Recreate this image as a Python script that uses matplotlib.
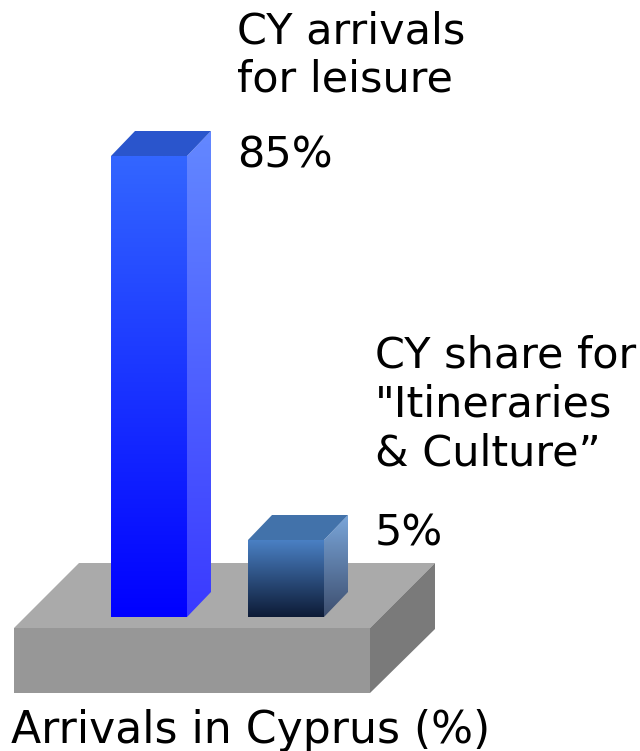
import numpy as np
import matplotlib
matplotlib.use("Agg")
import matplotlib.pyplot as plt
from matplotlib.patches import Polygon
from matplotlib.colors import LinearSegmentedColormap

# data
categories = ["CY arrivals\nfor leisure", "CY share for\n\"Itineraries\n& Culture\u201d"]
values = [85, 5]
value_labels = ["85%", "5%"]
xlabel = "Arrivals in Cyprus (%)"

# bar styles: front top/bottom, side top/bottom, top face
front_cols = [("#3366ff", "#0000ff"), ("#4a80c4", "#0d1b36")]
side_cols = [("#6388ff", "#3a3aff"), ("#7aa6da", "#3d4e6e")]
top_cols = ["#2a55cc", "#4272aa"]

W, H = 640, 751
PX = 4.8            # pixels per percent unit
BASE = 564          # pixel row of value 0


def py(p):
    return (BASE - p) / PX


fig = plt.figure(figsize=(W / 100, H / 100), dpi=100)
ax = fig.add_axes([0, 0, 1, 1])
ax.set_xlim(0, W)
ax.set_ylim(py(H), py(0))
ax.axis("off")

# platform
dx, dy = 24, 25 / PX
pf_l, pf_r = 14, 370
pf_top, pf_bot = py(628), py(693)
pf_back = py(563)
pdx = 65
ax.add_patch(Polygon([(pf_l, pf_top), (pf_l + pdx, pf_back), (pf_r + pdx, pf_back), (pf_r, pf_top)],
                     closed=True, fc="#aaaaaa", ec="none"))
ax.add_patch(Polygon([(pf_l, pf_top), (pf_r, pf_top), (pf_r, pf_bot), (pf_l, pf_bot)],
                     closed=True, fc="#979797", ec="none"))
ax.add_patch(Polygon([(pf_r, pf_top), (pf_r + pdx, pf_back), (pf_r + pdx, py(629)), (pf_r, pf_bot)],
                     closed=True, fc="#7a7a7a", ec="none"))

# bars
lefts = [111, 248]
bw = 76
bottom = py(617)
grad = np.linspace(0, 1, 256).reshape(-1, 1)
for i, v in enumerate(values):
    x0 = lefts[i]
    x1 = x0 + bw
    # front face
    cm = LinearSegmentedColormap.from_list("f%d" % i, [front_cols[i][1], front_cols[i][0]])
    ax.imshow(grad, extent=(x0, x1, bottom, v), origin="lower", cmap=cm, aspect="auto", zorder=3)
    # side face
    side = Polygon([(x1, bottom), (x1, v), (x1 + dx, v + dy), (x1 + dx, bottom + dy)],
                   closed=True, fc="none", ec="none")
    ax.add_patch(side)
    cm2 = LinearSegmentedColormap.from_list("s%d" % i, [side_cols[i][1], side_cols[i][0]])
    im = ax.imshow(grad, extent=(x1, x1 + dx, bottom, v + dy), origin="lower", cmap=cm2,
                   aspect="auto", zorder=3)
    im.set_clip_path(side)
    # top face
    ax.add_patch(Polygon([(x0, v), (x0 + dx, v + dy), (x1 + dx, v + dy), (x1, v)],
                         closed=True, fc=top_cols[i], ec="none", zorder=4))

ax.set_xlim(0, W)
ax.set_ylim(py(H), py(0))

fs = 31
ls = 1.21
ax.text(237, py(92), categories[0], fontsize=fs, va="baseline", ha="left", linespacing=ls)
ax.text(237, py(167), value_labels[0], fontsize=fs, va="baseline", ha="left")
ax.text(375, py(465), categories[1], fontsize=fs, va="baseline", ha="left", linespacing=ls)
ax.text(375, py(545), value_labels[1], fontsize=fs, va="baseline", ha="left")
ax.text(11, py(743), xlabel, fontsize=31.8, va="baseline", ha="left")

fig.savefig("out.png", dpi=100)
